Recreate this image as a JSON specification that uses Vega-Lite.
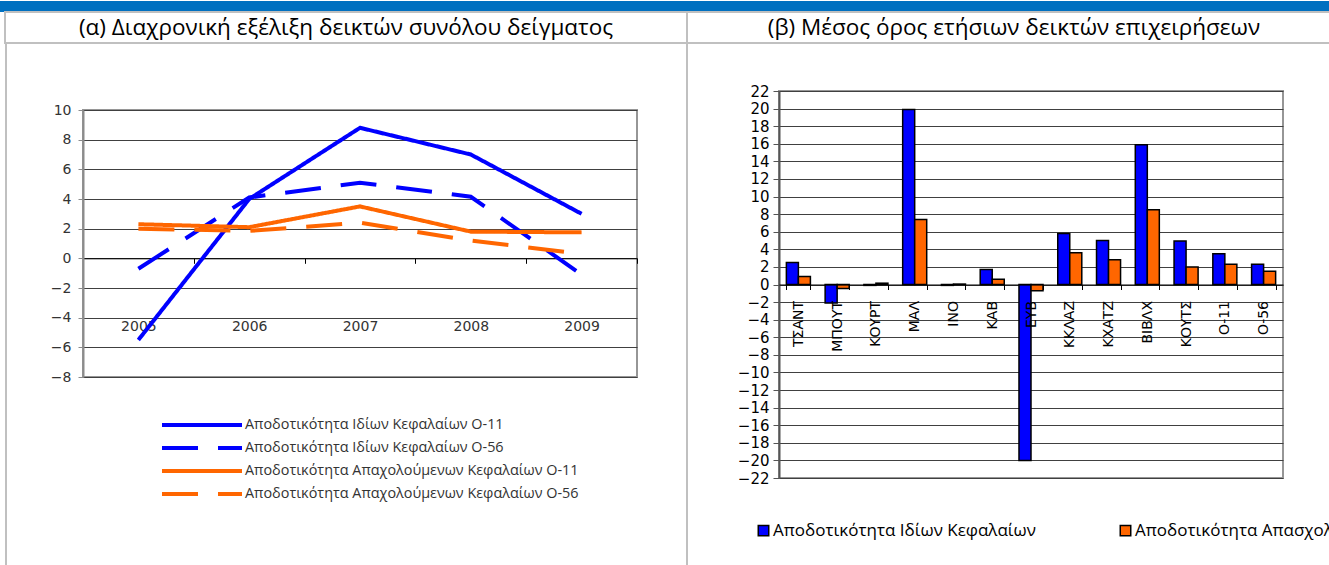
{
  "$schema": "https://vega.github.io/schema/vega-lite/v6.json",
  "padding": 0,
  "autosize": {"type": "pad"},
  "background": "white",
  "spacing": 0,
  "bounds": "flush",
  "resolve": {"scale": {"color": "independent", "strokeDash": "independent"}, "legend": {"color": "independent", "strokeDash": "independent"}},
  "config": {"view": {"stroke": null}, "concat": {"spacing": 0}, "font": "DejaVu Sans"},
  "datasets": {
    "lines": [
      {"year": "2005", "series": "Αποδοτικότητα Ιδίων Κεφαλαίων Ο-11", "value": -5.5},
      {"year": "2006", "series": "Αποδοτικότητα Ιδίων Κεφαλαίων Ο-11", "value": 4.0},
      {"year": "2007", "series": "Αποδοτικότητα Ιδίων Κεφαλαίων Ο-11", "value": 8.8},
      {"year": "2008", "series": "Αποδοτικότητα Ιδίων Κεφαλαίων Ο-11", "value": 7.0},
      {"year": "2009", "series": "Αποδοτικότητα Ιδίων Κεφαλαίων Ο-11", "value": 3.0},
      {"year": "2005", "series": "Αποδοτικότητα Ιδίων Κεφαλαίων Ο-56", "value": -0.7},
      {"year": "2006", "series": "Αποδοτικότητα Ιδίων Κεφαλαίων Ο-56", "value": 4.1},
      {"year": "2007", "series": "Αποδοτικότητα Ιδίων Κεφαλαίων Ο-56", "value": 5.1},
      {"year": "2008", "series": "Αποδοτικότητα Ιδίων Κεφαλαίων Ο-56", "value": 4.15},
      {"year": "2009", "series": "Αποδοτικότητα Ιδίων Κεφαλαίων Ο-56", "value": -1.1},
      {"year": "2005", "series": "Αποδοτικότητα Απαχολούμενων Κεφαλαίων Ο-11", "value": 2.3},
      {"year": "2006", "series": "Αποδοτικότητα Απαχολούμενων Κεφαλαίων Ο-11", "value": 2.1},
      {"year": "2007", "series": "Αποδοτικότητα Απαχολούμενων Κεφαλαίων Ο-11", "value": 3.5},
      {"year": "2008", "series": "Αποδοτικότητα Απαχολούμενων Κεφαλαίων Ο-11", "value": 1.8},
      {"year": "2009", "series": "Αποδοτικότητα Απαχολούμενων Κεφαλαίων Ο-11", "value": 1.75},
      {"year": "2005", "series": "Αποδοτικότητα Απαχολούμενων Κεφαλαίων Ο-56", "value": 2.0},
      {"year": "2006", "series": "Αποδοτικότητα Απαχολούμενων Κεφαλαίων Ο-56", "value": 1.85},
      {"year": "2007", "series": "Αποδοτικότητα Απαχολούμενων Κεφαλαίων Ο-56", "value": 2.4},
      {"year": "2008", "series": "Αποδοτικότητα Απαχολούμενων Κεφαλαίων Ο-56", "value": 1.2},
      {"year": "2009", "series": "Αποδοτικότητα Απαχολούμενων Κεφαλαίων Ο-56", "value": 0.3}
    ],
    "bars": [
      {"company": "ΤΣΑΝΤ", "measure": "Αποδοτικότητα Ιδίων Κεφαλαίων", "value": 2.5},
      {"company": "ΤΣΑΝΤ", "measure": "Αποδοτικότητα Απασχολούμενων Κεφαλαίων", "value": 0.9},
      {"company": "ΜΠΟΥΤ", "measure": "Αποδοτικότητα Ιδίων Κεφαλαίων", "value": -2.1},
      {"company": "ΜΠΟΥΤ", "measure": "Αποδοτικότητα Απασχολούμενων Κεφαλαίων", "value": -0.45},
      {"company": "ΚΟΥΡΤ", "measure": "Αποδοτικότητα Ιδίων Κεφαλαίων", "value": -0.1},
      {"company": "ΚΟΥΡΤ", "measure": "Αποδοτικότητα Απασχολούμενων Κεφαλαίων", "value": 0.15},
      {"company": "ΜΑΛ", "measure": "Αποδοτικότητα Ιδίων Κεφαλαίων", "value": 19.9},
      {"company": "ΜΑΛ", "measure": "Αποδοτικότητα Απασχολούμενων Κεφαλαίων", "value": 7.4},
      {"company": "ΙΝΟ", "measure": "Αποδοτικότητα Ιδίων Κεφαλαίων", "value": -0.1},
      {"company": "ΙΝΟ", "measure": "Αποδοτικότητα Απασχολούμενων Κεφαλαίων", "value": 0.05},
      {"company": "ΚΑΒ", "measure": "Αποδοτικότητα Ιδίων Κεφαλαίων", "value": 1.7},
      {"company": "ΚΑΒ", "measure": "Αποδοτικότητα Απασχολούμενων Κεφαλαίων", "value": 0.6},
      {"company": "ΕΥΒ", "measure": "Αποδοτικότητα Ιδίων Κεφαλαίων", "value": -20.0},
      {"company": "ΕΥΒ", "measure": "Αποδοτικότητα Απασχολούμενων Κεφαλαίων", "value": -0.7},
      {"company": "ΚΚΛΑΖ", "measure": "Αποδοτικότητα Ιδίων Κεφαλαίων", "value": 5.8},
      {"company": "ΚΚΛΑΖ", "measure": "Αποδοτικότητα Απασχολούμενων Κεφαλαίων", "value": 3.6},
      {"company": "ΚΧΑΤΖ", "measure": "Αποδοτικότητα Ιδίων Κεφαλαίων", "value": 5.0},
      {"company": "ΚΧΑΤΖ", "measure": "Αποδοτικότητα Απασχολούμενων Κεφαλαίων", "value": 2.8},
      {"company": "ΒΙΒΛΧ", "measure": "Αποδοτικότητα Ιδίων Κεφαλαίων", "value": 15.9},
      {"company": "ΒΙΒΛΧ", "measure": "Αποδοτικότητα Απασχολούμενων Κεφαλαίων", "value": 8.5},
      {"company": "ΚΟΥΤΣ", "measure": "Αποδοτικότητα Ιδίων Κεφαλαίων", "value": 4.95},
      {"company": "ΚΟΥΤΣ", "measure": "Αποδοτικότητα Απασχολούμενων Κεφαλαίων", "value": 2.0},
      {"company": "Ο-11", "measure": "Αποδοτικότητα Ιδίων Κεφαλαίων", "value": 3.5},
      {"company": "Ο-11", "measure": "Αποδοτικότητα Απασχολούμενων Κεφαλαίων", "value": 2.3},
      {"company": "Ο-56", "measure": "Αποδοτικότητα Ιδίων Κεφαλαίων", "value": 2.3},
      {"company": "Ο-56", "measure": "Αποδοτικότητα Απασχολούμενων Κεφαλαίων", "value": 1.5}
    ]
  },
  "vconcat": [
    {
      "width": 1329, "height": 11,
      "view": {"fill": "#0070C0", "stroke": null},
      "data": {"values": [{}]},
      "mark": {"type": "text", "text": ""}
    },
    {
      "hconcat": [
        {"width": 5, "height": 31, "data": {"values": [{}]}, "mark": {"type": "text", "text": ""}},
        {
          "width": 682, "height": 31,
          "view": {"stroke": "#c0c0c0", "strokeWidth": 2},
          "data": {"values": [{"t": "(α) Διαχρονική εξέλιξη δεικτών συνόλου δείγματος"}]},
          "mark": {"type": "text", "font": "Open Sans", "fontSize": 22.5, "color": "#000000"},
          "encoding": {"text": {"field": "t"}}
        },
        {
          "width": 654, "height": 31,
          "view": {"stroke": "#c0c0c0", "strokeWidth": 2},
          "data": {"values": [{"t": "(β) Μέσος όρος ετήσιων δεικτών επιχειρήσεων"}]},
          "mark": {"type": "text", "font": "Open Sans", "fontSize": 22.5, "color": "#000000"},
          "encoding": {"text": {"field": "t"}}
        }
      ],
      "spacing": 0,
      "bounds": "flush"
    },
    {"width": 10, "height": 31, "data": {"values": [{}]}, "mark": {"type": "text", "text": ""}},
    {
      "hconcat": [
        {"width": 5, "height": 10, "data": {"values": [{}]}, "mark": {"type": "text", "text": ""}},
        {"width": 1, "height": 523, "view": {"stroke": "#c0c0c0", "strokeWidth": 1}, "data": {"values": [{}]}, "mark": {"type": "text", "text": ""}},
        {"width": 77, "height": 10, "data": {"values": [{}]}, "mark": {"type": "text", "text": ""}},
        {
          "vconcat": [
            {"width": 554, "height": 67, "data": {"values": [{}]}, "mark": {"type": "text", "text": ""}},
            {
              "width": 554, "height": 267,
              "view": {"stroke": "#969696", "strokeWidth": 2},
              "data": {"name": "lines"},
              "mark": {"type": "line", "strokeWidth": 4},
              "encoding": {
                "x": {
                  "field": "year", "type": "ordinal", "bandPosition": 0.5,
                  "scale": {"type": "band", "paddingInner": 0, "paddingOuter": 0},
                  "axis": {
                    "title": null, "orient": "bottom", "offset": -118.7, "tickBand": "extent",
                    "domainColor": "#000000", "domainWidth": 1, "tickColor": "#000000", "tickSize": 5,
                    "labelPadding": 56, "labelAngle": 0, "labelFont": "DejaVu Sans", "labelFontSize": 14,
                    "labelColor": "#333333", "grid": false
                  }
                },
                "y": {
                  "field": "value", "type": "quantitative",
                  "scale": {"domain": [-8, 10], "nice": false, "zero": false},
                  "axis": {
                    "title": null, "values": [-8, -6, -4, -2, 0, 2, 4, 6, 8, 10],
                    "grid": true, "gridColor": "#404040", "gridWidth": 1,
                    "domainColor": "#8c8c8c", "domainWidth": 2, "tickColor": "#8c8c8c", "tickSize": 5,
                    "labelFont": "DejaVu Sans", "labelFontSize": 14, "labelColor": "#333333", "labelPadding": 7
                  }
                },
                "color": {
                  "field": "series", "type": "nominal",
                  "scale": {
                    "domain": ["Αποδοτικότητα Ιδίων Κεφαλαίων Ο-11", "Αποδοτικότητα Ιδίων Κεφαλαίων Ο-56", "Αποδοτικότητα Απαχολούμενων Κεφαλαίων Ο-11", "Αποδοτικότητα Απαχολούμενων Κεφαλαίων Ο-56"],
                    "range": ["#0000FF", "#0000FF", "#FF6600", "#FF6600"]
                  },
                  "legend": {
                    "title": null, "orient": "none", "direction": "vertical", "legendX": 107, "legendY": 303,
                    "symbolType": "M-4,0H4", "symbolSize": 400, "symbolStrokeWidth": 4,
                    "labelFont": "Open Sans", "labelFontSize": 14.4, "labelColor": "#333333",
                    "labelOffset": 31, "labelLimit": 1000, "rowPadding": 3,
                    "encode": {
                      "symbols": {
                        "update": {
                          "strokeDash": {"signal": "indexof(datum.value, 'Ο-56') >= 0 ? [36, 20] : [1, 0]"}
                        }
                      }
                    }
                  }
                },
                "strokeDash": {
                  "field": "series", "type": "nominal",
                  "scale": {
                    "domain": ["Αποδοτικότητα Ιδίων Κεφαλαίων Ο-11", "Αποδοτικότητα Ιδίων Κεφαλαίων Ο-56", "Αποδοτικότητα Απαχολούμενων Κεφαλαίων Ο-11", "Αποδοτικότητα Απαχολούμενων Κεφαλαίων Ο-56"],
                    "range": [[1, 0], [36, 20], [1, 0], [36, 20]]
                  },
                  "legend": null
                }
              }
            }
          ],
          "spacing": 0,
          "bounds": "flush",
          "resolve": {"scale": {"color": "independent", "strokeDash": "independent"}, "legend": {"color": "independent", "strokeDash": "independent"}}
        },
        {"width": 603, "height": 10, "data": {"values": [{}]}, "mark": {"type": "text", "text": ""}},
        {"width": 1, "height": 523, "view": {"stroke": "#c0c0c0", "strokeWidth": 1}, "data": {"values": [{}]}, "mark": {"type": "text", "text": ""}},
        {"width": 92, "height": 10, "data": {"values": [{}]}, "mark": {"type": "text", "text": ""}},
        {
          "vconcat": [
            {"width": 504, "height": 48, "data": {"values": [{}]}, "mark": {"type": "text", "text": ""}},
            {
              "width": 504, "height": 387,
              "view": {"stroke": "#969696", "strokeWidth": 2},
              "data": {"name": "bars"},
              "mark": {"type": "bar", "stroke": "#000000", "strokeWidth": 1.5},
              "encoding": {
                "x": {
                  "field": "company", "type": "nominal",
                  "sort": ["ΤΣΑΝΤ", "ΜΠΟΥΤ", "ΚΟΥΡΤ", "ΜΑΛ", "ΙΝΟ", "ΚΑΒ", "ΕΥΒ", "ΚΚΛΑΖ", "ΚΧΑΤΖ", "ΒΙΒΛΧ", "ΚΟΥΤΣ", "Ο-11", "Ο-56"],
                  "scale": {"paddingInner": 0.38, "paddingOuter": 0.19},
                  "axis": {
                    "title": null, "orient": "bottom", "offset": -193.5, "tickBand": "extent", "zindex": 1,
                    "domainColor": "#000000", "domainWidth": 1, "tickColor": "#000000", "tickSize": 5,
                    "labelAngle": 270, "labelPadding": 11, "labelFont": "DejaVu Sans", "labelFontSize": 14,
                    "labelColor": "#000000", "labelOverlap": false, "grid": false
                  }
                },
                "xOffset": {
                  "field": "measure", "type": "nominal",
                  "sort": ["Αποδοτικότητα Ιδίων Κεφαλαίων", "Αποδοτικότητα Απασχολούμενων Κεφαλαίων"],
                  "scale": {"paddingInner": 0, "paddingOuter": 0}
                },
                "y": {
                  "field": "value", "type": "quantitative",
                  "scale": {"domain": [-22, 22], "nice": false},
                  "axis": {
                    "title": null, "values": [-22, -20, -18, -16, -14, -12, -10, -8, -6, -4, -2, 0, 2, 4, 6, 8, 10, 12, 14, 16, 18, 20, 22],
                    "grid": true, "gridColor": "#404040", "gridWidth": 1,
                    "domainColor": "#555555", "domainWidth": 2, "tickColor": "#555555", "tickSize": 6,
                    "labelFont": "DejaVu Sans", "labelFontSize": 15, "labelColor": "#000000", "labelPadding": 4
                  }
                },
                "color": {
                  "field": "measure", "type": "nominal",
                  "scale": {
                    "domain": ["Αποδοτικότητα Ιδίων Κεφαλαίων", "Αποδοτικότητα Απασχολούμενων Κεφαλαίων"],
                    "range": ["#0000FF", "#FF6600"]
                  },
                  "legend": {
                    "title": null, "orient": "none", "direction": "horizontal", "legendX": -24, "legendY": 431,
                    "symbolType": "square", "symbolSize": 110, "symbolStrokeColor": "#000000", "symbolStrokeWidth": 1.5,
                    "symbolOpacity": 1, "labelFont": "Open Sans", "labelFontSize": 17, "labelColor": "#000000",
                    "labelOffset": 1, "labelLimit": 1000, "columnPadding": 81
                  }
                }
              }
            }
          ],
          "spacing": 0,
          "bounds": "flush",
          "resolve": {"scale": {"color": "independent"}, "legend": {"color": "independent"}}
        }
      ],
      "spacing": 0,
      "bounds": "flush",
      "resolve": {"scale": {"color": "independent", "strokeDash": "independent"}, "legend": {"color": "independent", "strokeDash": "independent"}}
    }
  ]
}
